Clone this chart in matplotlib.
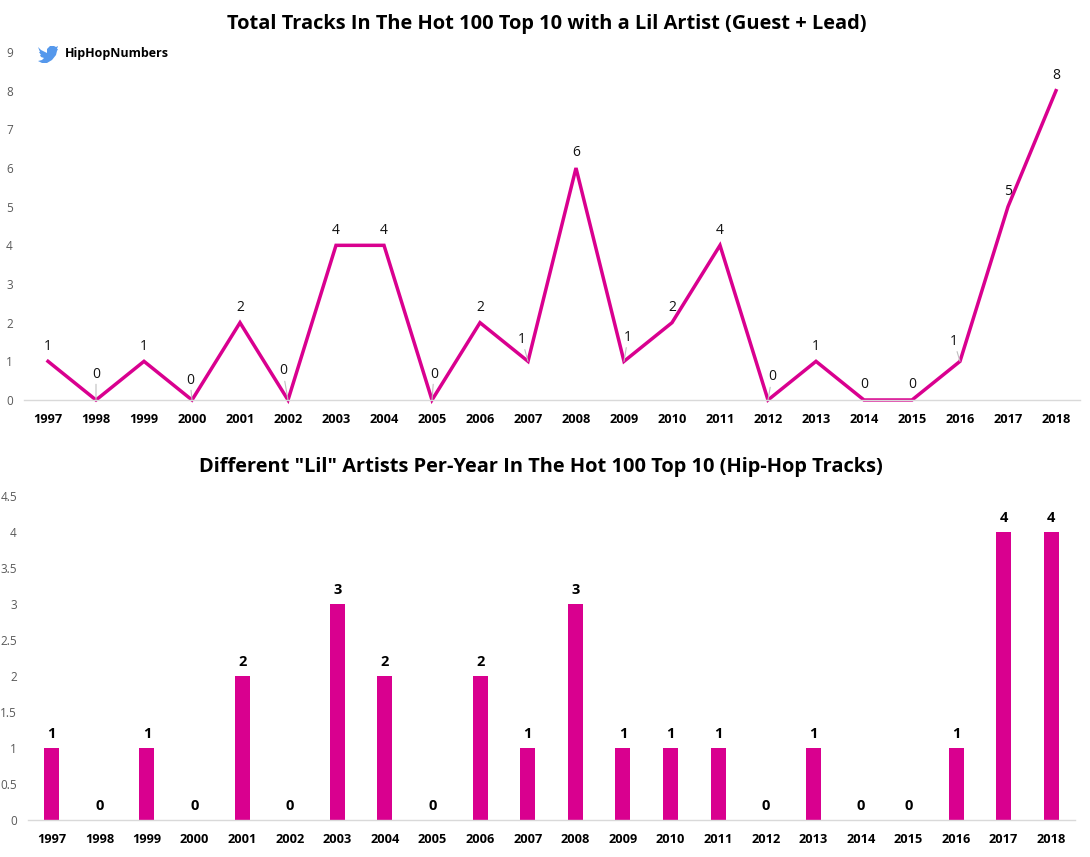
import matplotlib
matplotlib.use("Agg")
import matplotlib.pyplot as plt
from matplotlib.patches import PathPatch
from matplotlib.path import Path

plt.rcParams['font.family'] = ['Open Sans', 'DejaVu Sans']

years = [str(y) for y in range(1997, 2019)]
total_tracks = [1, 0, 1, 0, 2, 0, 4, 4, 0, 2, 1, 6, 1, 2, 4, 0, 1, 0, 0, 1, 5, 8]
lil_artists = [1, 0, 1, 0, 2, 0, 3, 2, 0, 2, 1, 3, 1, 1, 1, 0, 1, 0, 0, 1, 4, 4]
top_ticks = list(range(0, 10))
bottom_ticks = [0, 0.5, 1, 1.5, 2, 2.5, 3, 3.5, 4, 4.5]
bottom_tick_labels = ['0', '0.5', '1', '1.5', '2', '2.5', '3', '3.5', '4', '4.5']

# label offsets in pixels, where the label was dragged off its point
label_offsets = {1: (0, 26), 3: (-2, 20), 5: (-5, 29), 8: (2, 26), 10: (-6, 22),
                 12: (4, 24), 15: (4, 23), 19: (-6, 20)}
leaders = [1, 3, 5, 8, 10, 12, 15, 19]

W, H = 1090, 857
PINK = '#d9008f'
GRID = '#d9d9d9'
GRAY = '#595959'


def make_axes(left, right, top, bottom):
    ax = fig.add_axes([left / W, 1 - bottom / H, (right - left) / W, (bottom - top) / H])
    for s in ['top', 'left', 'right']:
        ax.spines[s].set_visible(False)
    ax.spines['bottom'].set_color(GRID)
    ax.spines['bottom'].set_linewidth(1)
    ax.set_xlim(-0.5, len(years) - 0.5)
    ax.set_xticks(range(len(years)))
    ax.set_xticklabels(years, fontsize=9.2, fontweight='bold', color='black')
    ax.tick_params(axis='x', length=0, pad=9.5)
    ax.tick_params(axis='y', length=0, pad=8, labelsize=8.5, labelcolor=GRAY)
    return ax


fig = plt.figure(figsize=(W / 100, H / 100), dpi=100)

# 上のグラフ
ax1 = make_axes(24, 1080, 52, 400)
ax1.plot(range(len(years)), total_tracks, color=PINK, lw=2.5, solid_joinstyle='miter', clip_on=False)
ax1.set_ylim(0, 9)
ax1.set_yticks(top_ticks)
for i, v in enumerate(total_tracks):
    dx, dy = label_offsets.get(i, (0, 15))
    arrow = dict(arrowstyle='-', color='#bfbfbf', lw=0.8, shrinkA=0, shrinkB=0) if i in leaders else None
    ax1.annotate(str(v), (i, v), xytext=(dx, dy), textcoords='offset pixels', ha='center',
                 va='center', fontsize=10, color='#111111', arrowprops=arrow)
fig.text(547 / W, 1 - 23.5 / H, 'Total Tracks In The Hot 100 Top 10 with a Lil Artist (Guest + Lead)',
         ha='center', va='center', fontsize=14.45, fontweight='bold', color='black')

# 下のグラフ
ax2 = make_axes(28, 1075, 496, 820)
ax2.bar(range(len(years)), lil_artists, width=0.315, color=PINK)
ax2.set_ylim(0, 4.5)
ax2.set_yticks(bottom_ticks)
ax2.set_yticklabels(bottom_tick_labels)
for i, v in enumerate(lil_artists):
    ax2.annotate(str(v), (i, v), xytext=(0, 14), textcoords='offset pixels', ha='center',
                 va='center', fontsize=10.5, fontweight='bold', color='black')
fig.text(541 / W, 1 - 467 / H, 'Different "Lil" Artists Per-Year In The Hot 100 Top 10 (Hip-Hop Tracks)',
         ha='center', va='center', fontsize=14.45, fontweight='bold', color='black')

# ロゴ
bird = [(38, 47), (41, 50), (47, 53), (47, 49), (50, 46), (54, 46), (56, 47), (58, 46), (57, 49),
        (58, 49), (57, 51), (56, 55), (52, 60), (47, 63), (42, 63), (38, 61), (42, 60), (44, 58),
        (41, 57), (40, 55), (41, 55), (39, 52), (40, 52)]
verts = [(x / W, 1 - y / H) for x, y in bird] + [(bird[0][0] / W, 1 - bird[0][1] / H)]
fig.add_artist(PathPatch(Path(verts, closed=True), transform=fig.transFigure, fc='#5598ec', ec='none'))
fig.text(65 / W, 1 - 54 / H, 'HipHopNumbers', ha='left', va='center', fontsize=9, fontweight='bold', color='black')

fig.savefig('out.png', dpi=100)
